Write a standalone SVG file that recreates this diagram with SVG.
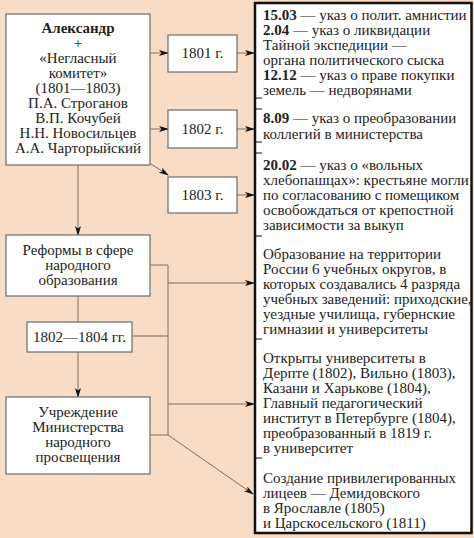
<svg xmlns="http://www.w3.org/2000/svg" width="474" height="538" viewBox="0 0 474 538">
<defs>
<marker id="ah" markerWidth="10" markerHeight="6" refX="9" refY="3" orient="auto" markerUnits="userSpaceOnUse">
<path d="M0,0 L10,3 L0,6 L2.5,3 Z" fill="#111"/>
</marker>
<style>
.bg{fill:#F9DCC6}
.box{fill:#fff;stroke:#6b6b6b;stroke-width:1.2}
.big{fill:#fff;stroke:#111;stroke-width:2.5}
.t{font-family:"Liberation Serif","Times New Roman",serif;font-size:15px;fill:#222}
.c{text-anchor:middle}
.b{font-weight:bold}
.ln{stroke:#7d6e64;stroke-width:1;fill:none}
.ar{stroke:#7d6e64;stroke-width:1;fill:none;marker-end:url(#ah)}
.tick{stroke:#111;stroke-width:1}
</style>
</defs>
<rect class="bg" x="0" y="0" width="474" height="538"/>

<g id="connectors">
<line class="ar" x1="150" y1="53" x2="168" y2="53"/>
<line class="ar" x1="150" y1="129" x2="168" y2="129"/>
<line class="ar" x1="151" y1="164" x2="168" y2="175"/>
<line class="ar" x1="237" y1="53" x2="254" y2="53"/>
<line class="ar" x1="237" y1="129" x2="254" y2="129"/>
<line class="ar" x1="237" y1="195" x2="254" y2="195"/>
<line class="ar" x1="78" y1="165" x2="78" y2="235"/>
<line class="ln" x1="78" y1="296" x2="78" y2="322"/>
<line class="ar" x1="78" y1="352" x2="78" y2="397"/>
<polyline class="ln" points="150,265 168,265 168,435 150,435"/>
<line class="ln" x1="132" y1="336" x2="168" y2="336"/>
<line class="ar" x1="168" y1="283" x2="254" y2="283"/>
<line class="ar" x1="168" y1="404" x2="254" y2="404"/>
<line class="ar" x1="168" y1="435" x2="253" y2="494"/>
</g>

<g id="n-alexander">
<rect class="box" x="6" y="14" width="144" height="151"/>
<text class="t c b" x="78" y="33">Александр</text>
<text class="t c" x="78" y="48">+</text>
<text class="t c" x="78" y="63">«Негласный</text>
<text class="t c" x="78" y="78">комитет»</text>
<text class="t c" x="78" y="93">(1801—1803)</text>
<text class="t c" x="78" y="108">П.А. Строганов</text>
<text class="t c" x="78" y="123">В.П. Кочубей</text>
<text class="t c" x="78" y="138">Н.Н. Новосильцев</text>
<text class="t c" x="78" y="153">А.А. Чарторыйский</text>
</g>

<g id="n-1801">
<rect class="box" x="168" y="35" width="69" height="37"/>
<text class="t c" x="202.5" y="58">1801 г.</text>
</g>
<g id="n-1802">
<rect class="box" x="168" y="110" width="69" height="38"/>
<text class="t c" x="202.5" y="134">1802 г.</text>
</g>
<g id="n-1803">
<rect class="box" x="168" y="177" width="69" height="36"/>
<text class="t c" x="202.5" y="200">1803 г.</text>
</g>

<g id="n-reform">
<rect class="box" x="6" y="235" width="144" height="61"/>
<text class="t c" x="78" y="255">Реформы в сфере</text>
<text class="t c" x="78" y="270">народного</text>
<text class="t c" x="78" y="285">образования</text>
</g>

<g id="n-1802-1804">
<rect class="box" x="27" y="322" width="105" height="30"/>
<text class="t c" x="79.5" y="342">1802—1804 гг.</text>
</g>

<g id="n-ministry">
<rect class="box" x="6" y="397" width="144" height="77"/>
<text class="t c" x="78" y="417">Учреждение</text>
<text class="t c" x="78" y="432">Министерства</text>
<text class="t c" x="78" y="447">народного</text>
<text class="t c" x="78" y="462">просвещения</text>
</g>

<g id="n-details">
<rect class="big" x="255" y="3" width="216.5" height="530"/>
<line class="tick" x1="255" y1="98" x2="262" y2="98"/>
<line class="tick" x1="255" y1="109" x2="262" y2="109"/>
<line class="tick" x1="255" y1="142" x2="262" y2="142"/>
<line class="tick" x1="255" y1="153" x2="262" y2="153"/>
<line class="tick" x1="255" y1="236" x2="262" y2="236"/>
<line class="tick" x1="255" y1="339" x2="262" y2="339"/>
<line class="tick" x1="255" y1="458" x2="262" y2="458"/>
<text class="t" x="263" y="20"><tspan class="b">15.03</tspan> — указ о полит. амнистии</text>
<text class="t" x="263" y="35"><tspan class="b">2.04</tspan> — указ о ликвидации</text>
<text class="t" x="263" y="50">Тайной экспедиции —</text>
<text class="t" x="263" y="65">органа политического сыска</text>
<text class="t" x="263" y="80"><tspan class="b">12.12</tspan> — указ о праве покупки</text>
<text class="t" x="263" y="95">земель — недворянами</text>
<text class="t" x="263" y="123"><tspan class="b">8.09</tspan> — указ о преобразовании</text>
<text class="t" x="263" y="139">коллегий в министерства</text>
<text class="t" x="263" y="170"><tspan class="b">20.02</tspan> — указ о «вольных</text>
<text class="t" x="263" y="185">хлебопашцах»: крестьяне могли</text>
<text class="t" x="263" y="200">по согласованию с помещиком</text>
<text class="t" x="263" y="215">освобождаться от крепостной</text>
<text class="t" x="263" y="230">зависимости за выкуп</text>
<text class="t" x="263" y="259">Образование на территории</text>
<text class="t" x="263" y="274">России 6 учебных округов, в</text>
<text class="t" x="263" y="289">которых создавались 4 разряда</text>
<text class="t" x="263" y="304">учебных заведений: приходские,</text>
<text class="t" x="263" y="319">уездные училища, губернские</text>
<text class="t" x="263" y="334">гимназии и университеты</text>
<text class="t" x="263" y="363">Открыты университеты в</text>
<text class="t" x="263" y="378">Дерпте (1802), Вильно (1803),</text>
<text class="t" x="263" y="393">Казани и Харькове (1804),</text>
<text class="t" x="263" y="408">Главный педагогический</text>
<text class="t" x="263" y="423">институт в Петербурге (1804),</text>
<text class="t" x="263" y="438">преобразованный в 1819 г.</text>
<text class="t" x="263" y="453">в университет</text>
<text class="t" x="263" y="483">Создание привилегированных</text>
<text class="t" x="263" y="498">лицеев — Демидовского</text>
<text class="t" x="263" y="513">в Ярославле (1805)</text>
<text class="t" x="263" y="528">и Царскосельского (1811)</text>
</g>
</svg>
